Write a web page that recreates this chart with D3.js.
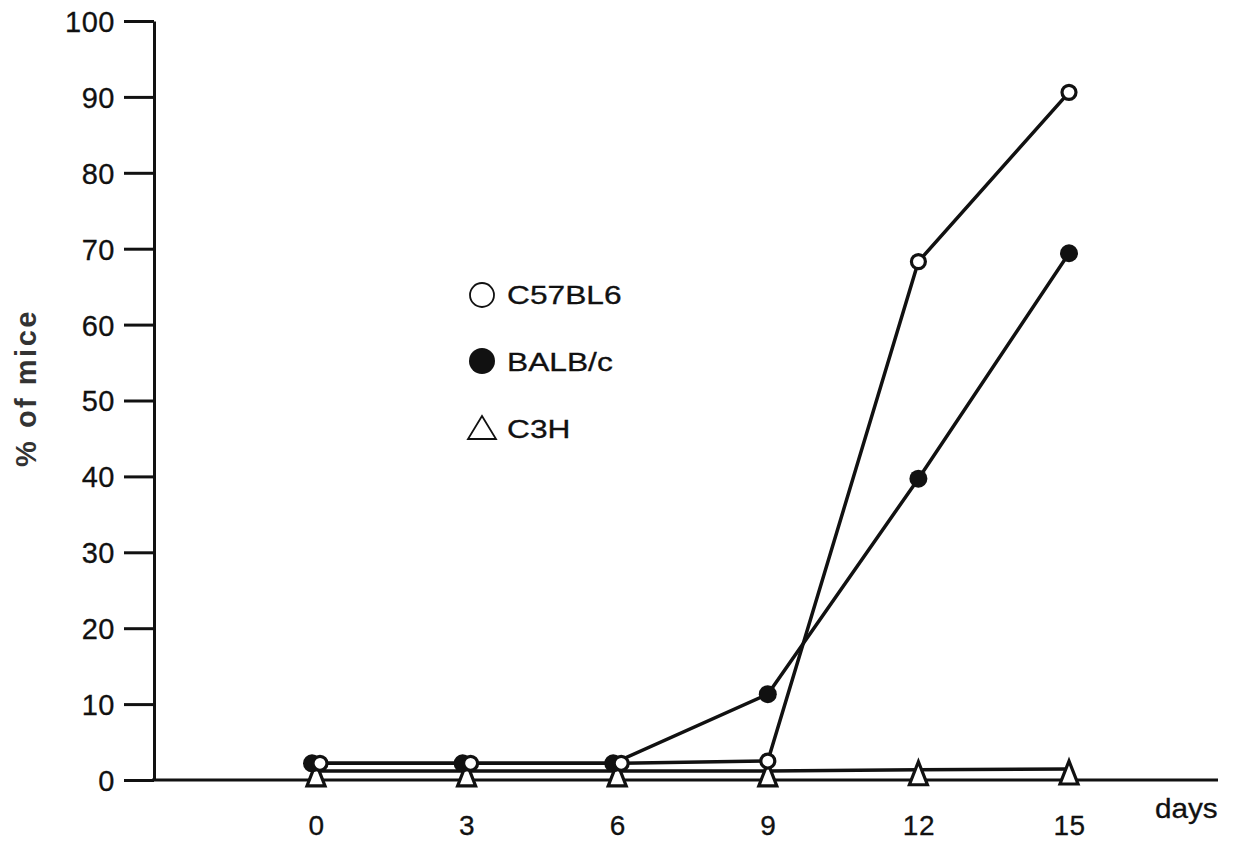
<!DOCTYPE html>
<html>
<head>
<meta charset="utf-8">
<script src="https://cdn.jsdelivr.net/npm/d3@7"></script>
<style>
  body { margin: 0; background: #fff; }
  svg { display: block; font-family: "Liberation Sans", Arial, sans-serif; }
  .tick text, .txt { fill: #111; stroke: #111; stroke-width: 0.3px; }
</style>
</head>
<body>
<div id="chart"></div>
<script>
var width = 1233;
var height = 841;

// data
var days = [0, 3, 6, 9, 12, 15];
var c57bl6 = [2.2, 2.2, 2.2, 2.5, 68.3, 90.6];
var balbc = [2.2, 2.2, 2.2, 11.3, 39.7, 69.4];
var c3h = [1.2, 1.2, 1.2, 1.2, 1.35, 1.45];
var yTicks = [0, 10, 20, 30, 40, 50, 60, 70, 80, 90, 100];
var seriesNames = ["C57BL6", "BALB/c", "C3H"];

var svg = d3.select("#chart")
  .append("svg")
  .attr("width", width)
  .attr("height", height);

var xScale = d3.scaleLinear().domain([0, 15]).range([316, 1069]);
var yScale = d3.scaleLinear().domain([0, 100]).range([780, 21]);

// y axis
var yAxis = d3.axisLeft(yScale)
  .tickValues(yTicks)
  .tickSize(30)
  .tickSizeOuter(0)
  .tickPadding(9);

var gy = svg.append("g")
  .attr("transform", "translate(154,0)")
  .call(yAxis);
gy.select(".domain").attr("stroke", "#111").attr("stroke-width", 3);
gy.selectAll(".tick line").attr("stroke", "#111").attr("stroke-width", 3);
gy.selectAll(".tick text")
  .attr("font-size", "29px")
  .attr("letter-spacing", "0.5px")
  .attr("dy", "0.36em");

// x axis: long baseline, labels only
svg.append("line")
  .attr("x1", 152).attr("x2", 1218)
  .attr("y1", yScale(0)).attr("y2", yScale(0))
  .attr("stroke", "#111")
  .attr("stroke-width", 3);

var xAxis = d3.axisBottom(xScale)
  .tickValues(days)
  .tickFormat(d3.format("d"))
  .tickSize(0)
  .tickPadding(0);

var gx = svg.append("g")
  .attr("transform", "translate(0," + yScale(0) + ")")
  .call(xAxis);
gx.select(".domain").remove();
gx.selectAll(".tick text")
  .attr("font-size", "28px")
  .attr("letter-spacing", "0.5px")
  .attr("y", 55)
  .attr("dy", 0);

svg.append("text")
  .attr("class", "txt")
  .attr("transform", "translate(1155,818) scale(1.1,1)")
  .attr("font-size", "27px")
  .text("days");

svg.append("text")
  .attr("transform", "translate(36,388) rotate(-90)")
  .attr("text-anchor", "middle")
  .attr("font-size", "29px")
  .attr("font-weight", "bold")
  .attr("letter-spacing", "2.5px")
  .attr("fill", "#333")
  .text("% of mice");

// lines
var line = d3.line()
  .x(function (d) { return xScale(d.day) + d.dx; })
  .y(function (d) { return yScale(d.v); });

function rows(values, nudge) {
  return days.map(function (day, i) {
    // push overlapping open/filled circles apart like the original
    var dx = (c57bl6[i] === balbc[i]) ? nudge : 0;
    return { day: day, v: values[i], dx: dx };
  });
}

var c57Rows = rows(c57bl6, 4);
var balbRows = rows(balbc, -4);
var c3hRows = rows(c3h, 0);

[c3hRows, balbRows, c57Rows].forEach(function (r) {
  svg.append("path")
    .datum(r)
    .attr("d", line)
    .attr("fill", "none")
    .attr("stroke", "#111")
    .attr("stroke-width", 3.5)
    .attr("stroke-linejoin", "round");
});

// markers
function tri(w, up, down) {
  return "M0," + (-up) + "L" + (-w / 2) + "," + down + "L" + (w / 2) + "," + down + "Z";
}

svg.selectAll(".c3h")
  .data(c3hRows)
  .enter()
  .append("path")
  .attr("class", "c3h")
  .attr("transform", function (d) { return "translate(" + xScale(d.day) + "," + yScale(d.v) + ")"; })
  .attr("d", tri(18, 8, 15))
  .attr("fill", "#fff")
  .attr("stroke", "#111")
  .attr("stroke-width", 3.2)
  .attr("stroke-linejoin", "miter");

svg.selectAll(".balb")
  .data(balbRows)
  .enter()
  .append("circle")
  .attr("class", "balb")
  .attr("cx", function (d) { return xScale(d.day) + d.dx; })
  .attr("cy", function (d) { return yScale(d.v); })
  .attr("r", 9)
  .attr("fill", "#111");

svg.selectAll(".c57")
  .data(c57Rows)
  .enter()
  .append("circle")
  .attr("class", "c57")
  .attr("cx", function (d) { return xScale(d.day) + d.dx; })
  .attr("cy", function (d) { return yScale(d.v); })
  .attr("r", 7)
  .attr("fill", "#fff")
  .attr("stroke", "#111")
  .attr("stroke-width", 3.2);

// legend
var legend = svg.append("g").attr("transform", "translate(482,295)");

legend.append("circle")
  .attr("cx", 0).attr("cy", 0).attr("r", 12)
  .attr("fill", "#fff").attr("stroke", "#111").attr("stroke-width", 1.8);
legend.append("circle")
  .attr("cx", 0).attr("cy", 66).attr("r", 13)
  .attr("fill", "#111");
legend.append("path")
  .attr("transform", "translate(0,133)")
  .attr("d", tri(28, 12, 11))
  .attr("fill", "#fff").attr("stroke", "#111").attr("stroke-width", 1.8);

legend.selectAll(".legend-label")
  .data(seriesNames)
  .enter()
  .append("text")
  .attr("class", "legend-label txt")
  .attr("transform", function (d, i) { return "translate(25," + (9 + i * 67) + ") scale(1.22,1)"; })
  .attr("font-size", "26px")
  .text(function (d) { return d; });
</script>
</body>
</html>
